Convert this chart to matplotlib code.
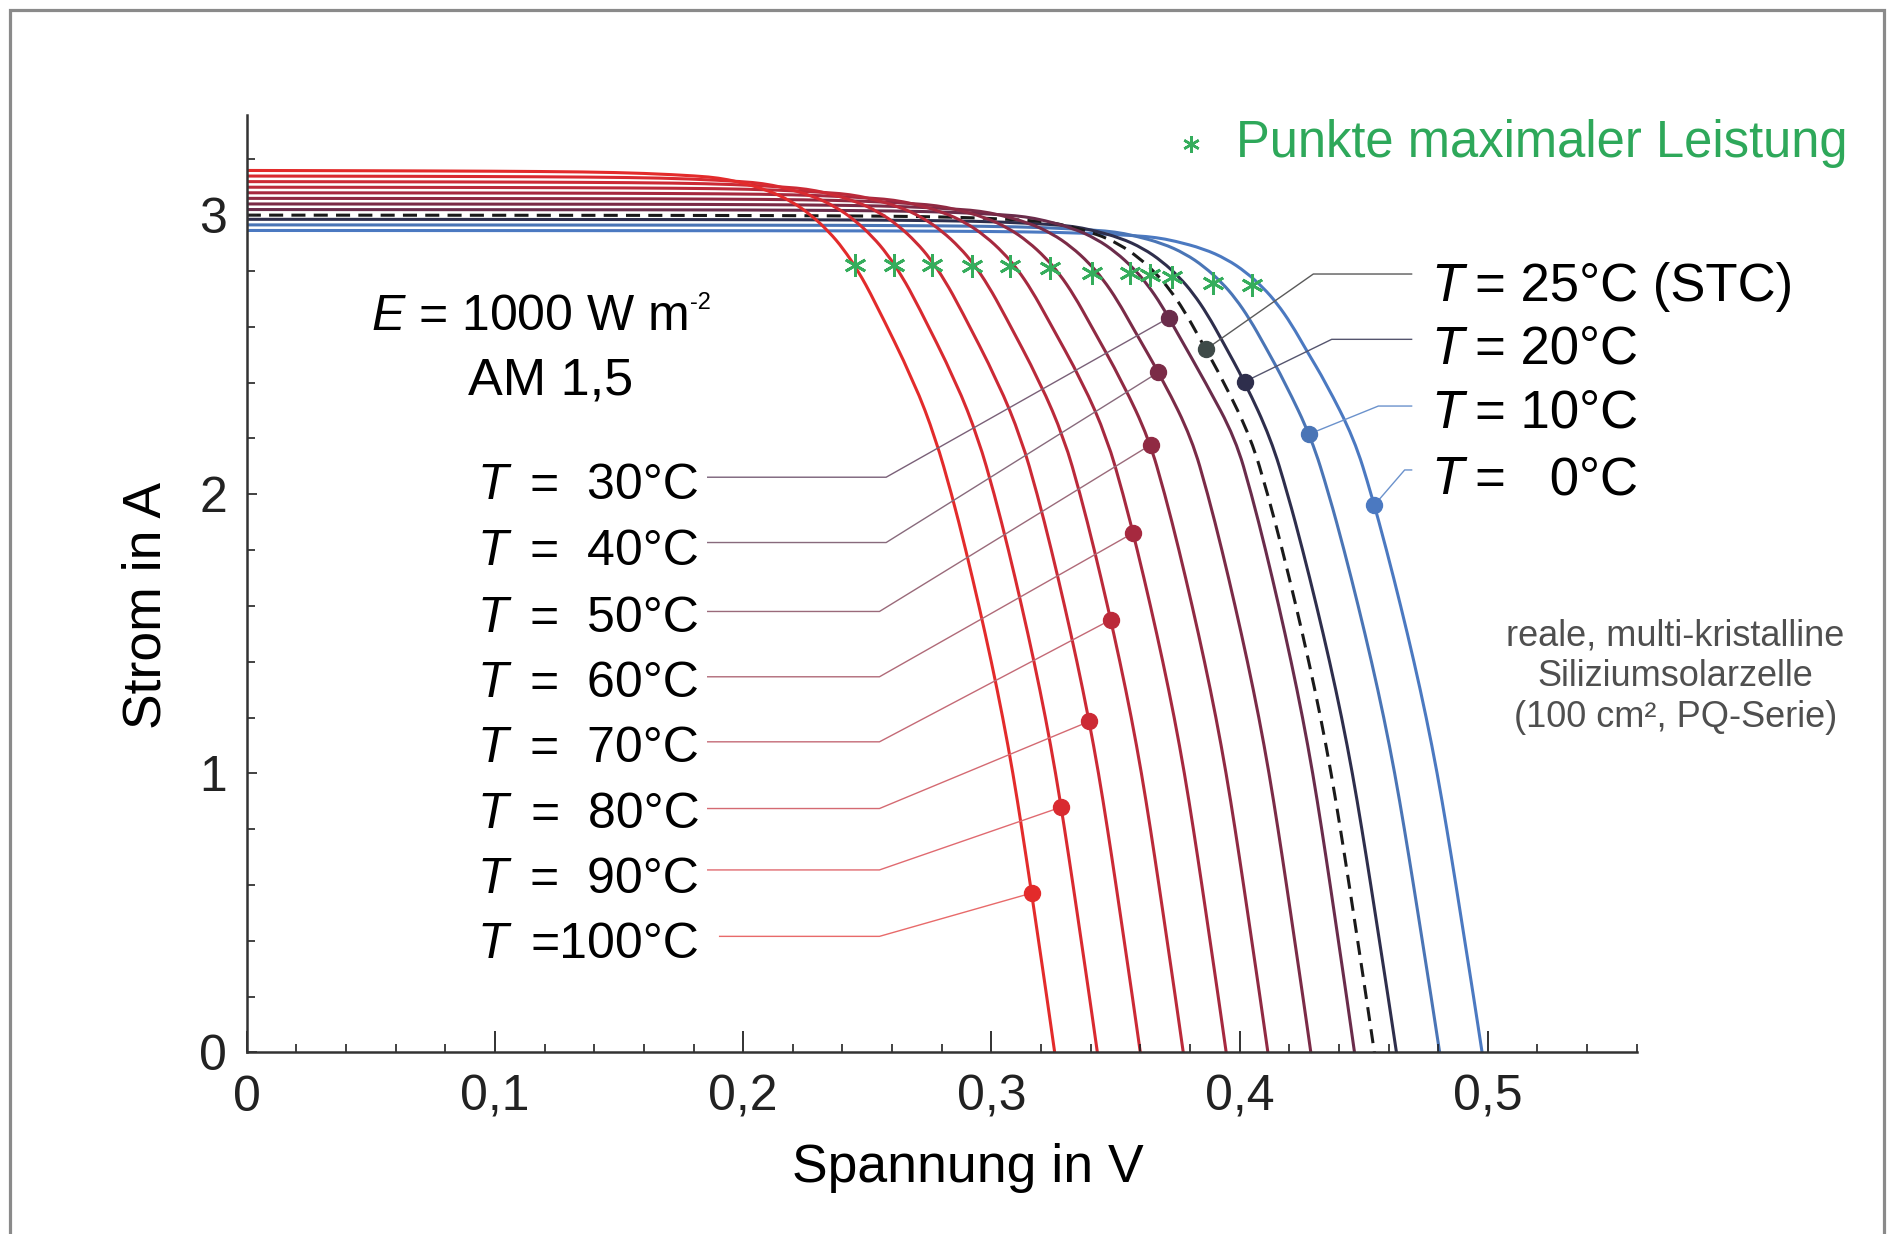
import numpy as np
import matplotlib.pyplot as plt
from matplotlib.patches import Rectangle, PathPatch
from matplotlib.path import Path

plt.rcParams['font.family'] = ['Liberation Sans', 'DejaVu Sans']
plt.rcParams['mathtext.fontset'] = 'custom'
plt.rcParams['mathtext.rm'] = 'Liberation Sans'
plt.rcParams['mathtext.it'] = 'Liberation Sans:italic'

# cell temperature in °C, one I-V curve each
temps = [100, 90, 80, 70, 60, 50, 40, 30, 25, 20, 10, 0]
# open-circuit voltage (V) and short-circuit current (A), read at the axes
voc = [0.3255, 0.3427, 0.3600, 0.3773, 0.3946, 0.4114, 0.4287, 0.4463, 0.4543, 0.4632, 0.4806, 0.4977]
isc = [3.160, 3.140, 3.120, 3.100, 3.080, 3.060, 3.040, 3.020, 3.000, 2.985, 2.965, 2.945]

knee_dv = [0.2755, 0.2255, 0.1887, 0.1650, 0.1437, 0.1355, 0.1277, 0.1157, 0.1061, 0.0981, 0.0909, 0.0852, 0.0792, 0.0730]
knee_frac = [0.9997, 0.9992, 0.9984, 0.9968, 0.9937, 0.9915, 0.9873, 0.9778, 0.9652, 0.9494, 0.9304, 0.9114, 0.8861, 0.8544]
# colder curves have a slightly sharper knee
knee_scale = [1.0, 0.995, 0.993, 0.991, 0.988, 0.985, 0.983, 0.980, 0.968, 0.962, 0.966, 0.970]
# distance below Voc at 2.4 A
dv_24 = [0.0565, 0.0568, 0.0572, 0.0576, 0.0578, 0.0585, 0.0590, 0.0600, 0.0605, 0.0610, 0.0623, 0.0630]
# steep branch: distance below Voc (V) at fixed currents (A)
low_i = [2.2, 2.0, 1.8, 1.6, 1.4, 1.2, 1.0, 0.8, 0.6, 0.4, 0.2, 0.0]
low_dv = [0.0480, 0.0415, 0.0358, 0.0305, 0.0255, 0.0209, 0.0168, 0.0132, 0.0098, 0.0065, 0.0032, 0.0]
low_scale = [1.0, 1.0, 1.0, 1.0, 1.0, 1.0, 1.0, 1.0, 1.035, 1.055, 1.075, 1.075]

# maximum power points (green stars)
mpp_v = [0.2451, 0.2609, 0.2762, 0.2921, 0.3075, 0.3236, 0.3404, 0.3559, 0.3640, 0.3727, 0.3894, 0.4050]
mpp_i = [2.822, 2.822, 2.822, 2.818, 2.816, 2.812, 2.792, 2.792, 2.784, 2.780, 2.756, 2.749]

# current where each curve carries its label dot
dot_i = [0.571, 0.879, 1.186, 1.550, 1.861, 2.177, 2.437, 2.632, 2.519, 2.403, 2.216, 1.961]

curve_colors = ['#e32b2b', '#d92a30', '#cc2a35', '#bb2a3a', '#a6293f', '#902a43', '#7b2b47', '#6a2c4b',
                '#1a1a1a', '#2e2e4c', '#4a75b6', '#4b79c1']
dot_colors = curve_colors[:8] + ['#3e4a48', '#2e2e4c', '#4a75b6', '#4b79c1']
lead_colors = ['#e86a6a', '#e06a70', '#d46a72', '#c46a76', '#b06a78', '#9a6a7a', '#886a7c', '#7a6078',
               '#5a5a5a', '#55556e', '#6b92cc', '#6b92cc']

# labels on the left (30..100 °C) and right (25..0 °C)
left_idx = [7, 6, 5, 4, 3, 2, 1, 0]
left_text = ['=  30°C', '=  40°C', '=  50°C', '=  60°C', '=  70°C', '=  80°C', '=  90°C', '=100°C']
left_base = [1.983, 1.745, 1.507, 1.273, 1.039, 0.805, 0.571, 0.338]
left_lead = [2.061, 1.827, 1.580, 1.346, 1.113, 0.874, 0.654, 0.416]
left_knee = [0.2576, 0.2576, 0.2549, 0.2549, 0.2549, 0.2549, 0.2549, 0.2549]

right_idx = [8, 9, 10, 11]
right_text = ['= 25°C (STC)', '= 20°C', '= 10°C', '=   0°C']
right_base = [2.693, 2.468, 2.238, 2.000]
right_lead = [2.789, 2.555, 2.316, 2.087]
right_knee = [0.4297, 0.4371, 0.4559, 0.4665]


def iv_curve(k):
    v = [0.0]
    i = [isc[k]]
    for dv, fr in zip(knee_dv, knee_frac):
        vv = voc[k] - dv * knee_scale[k]
        if vv > 0.0:
            v.append(vv)
            i.append(isc[k] * fr)
    v.append(voc[k] - dv_24[k])
    i.append(2.4)
    for cur, dv in zip(low_i, low_dv):
        v.append(voc[k] - dv * low_scale[k])
        i.append(cur)
    return np.array(v), np.array(i)


def smooth_path(v, i):
    # quadratic Bezier through segment midpoints, so the drawn line has no corners
    pts = np.column_stack([v, i])
    mids = (pts[:-1] + pts[1:]) / 2
    verts = [pts[0], mids[0]]
    codes = [Path.MOVETO, Path.LINETO]
    for j in range(1, len(pts) - 1):
        verts += [pts[j], mids[j]]
        codes += [Path.CURVE3, Path.CURVE3]
    verts.append(pts[-1])
    codes.append(Path.LINETO)
    return Path(verts, codes)


fig = plt.figure(figsize=(18.97, 12.34), dpi=100)
ax = fig.add_axes([0.1301, 0.1471, 0.7327, 0.76])

# grey frame around the whole picture
fig.patches.append(Rectangle((0.0051, -0.02), 0.9881, 1.0121, transform=fig.transFigure,
                             fill=False, edgecolor='#8a8a8a', linewidth=2.3))

dots = {}
for k in range(len(temps) - 1, -1, -1):
    v, i = iv_curve(k)
    ls = (0, (4.6, 2.7)) if temps[k] == 25 else '-'
    ax.add_patch(PathPatch(smooth_path(v, i), fill=False, edgecolor=curve_colors[k],
                           lw=2.2, linestyle=ls, capstyle='butt'))
    dots[k] = (np.interp(dot_i[k], i[::-1], v[::-1]), dot_i[k])

# leader lines and labels
for n, k in enumerate(left_idx):
    x0 = 0.1905 if temps[k] == 100 else 0.1857
    ax.plot([x0, left_knee[n], dots[k][0]], [left_lead[n], left_lead[n], dots[k][1]],
            color=lead_colors[k], lw=1.0, zorder=3)
    ax.text(0.0931, left_base[n], 'T', style='italic', fontsize=36, va='baseline', ha='left')
    ax.text(0.1823, left_base[n], left_text[n], fontsize=36, va='baseline', ha='right')

for n, k in enumerate(right_idx):
    ax.plot([0.4693, right_knee[n], dots[k][0]], [right_lead[n], right_lead[n], dots[k][1]],
            color=lead_colors[k], lw=1.0, zorder=3, clip_on=False)
    ax.text(0.4771, right_base[n], 'T', style='italic', fontsize=38, va='baseline', ha='left')
    ax.text(0.4950, right_base[n], right_text[n], fontsize=38, va='baseline', ha='left')

for k, (vx, iy) in dots.items():
    ax.plot(vx, iy, 'o', ms=11.5, color=dot_colors[k], zorder=4)

green = '#35ad5c'
ax.plot(mpp_v, mpp_i, ls='none', marker=(6, 2, 0), ms=16, mew=2.0, color=green, zorder=5)
ax.plot([0.3806], [3.255], ls='none', marker=(6, 2, 0), ms=12, mew=1.8, color=green, clip_on=False)
ax.text(0.3986, 3.208, 'Punkte maximaler Leistung', color='#2ea85a', fontsize=36.5, va='baseline', ha='left')

etxt = ax.text(0.0502, 2.589, r'$E$ = 1000 W m', fontsize=36, va='baseline', ha='left')
ax.annotate('-2', xy=(1.0, 0.80), xycoords=etxt, xytext=(1.5, 0), textcoords='offset points',
            fontsize=17, ha='left', va='center')
ax.text(0.0892, 2.359, 'AM 1,5', fontsize=37.5, va='baseline', ha='left')
ax.text(0.5755, 1.346, 'reale, multi-kristalline\nSiliziumsolarzelle\n(100 cm², PQ-Serie)',
        fontsize=26, color='#4f4f4f', ha='center', va='center', linespacing=1.22)

ax.text(0.2904, -0.463, 'Spannung in V', fontsize=38.5, ha='center', va='baseline')
ax.text(-0.0405, 1.602, 'Strom in A', fontsize=38.5, ha='center', va='center', rotation=90)

ax.set_xlim(0, 0.56)
ax.set_ylim(0, 3.36)
ax.set_xticks([0, 0.1, 0.2, 0.3, 0.4, 0.5])
ax.set_xticklabels(['0', '0,1', '0,2', '0,3', '0,4', '0,5'])
ax.set_xticks(np.arange(0, 0.561, 0.02), minor=True)
ax.set_yticks([0, 1, 2, 3])
ax.set_yticklabels(['0', '1', '2', '3'])
ax.set_yticks(np.arange(0, 3.21, 0.2), minor=True)
ax.tick_params(axis='x', which='major', direction='in', length=15, width=1.3, pad=16, labelsize=36, colors='#222222')
ax.tick_params(axis='x', which='minor', direction='in', length=6, width=1.2, colors='#222222')
ax.tick_params(axis='y', which='major', direction='in', length=7, width=1.2, pad=14, labelsize=36, colors='#222222')
ax.tick_params(axis='y', which='minor', direction='in', length=6, width=1.2, colors='#222222')
for s in ['top', 'right']:
    ax.spines[s].set_visible(False)
for s in ['left', 'bottom']:
    ax.spines[s].set_linewidth(1.8)
    ax.spines[s].set_color('#333333')

fig.savefig('out.png', dpi=100)
